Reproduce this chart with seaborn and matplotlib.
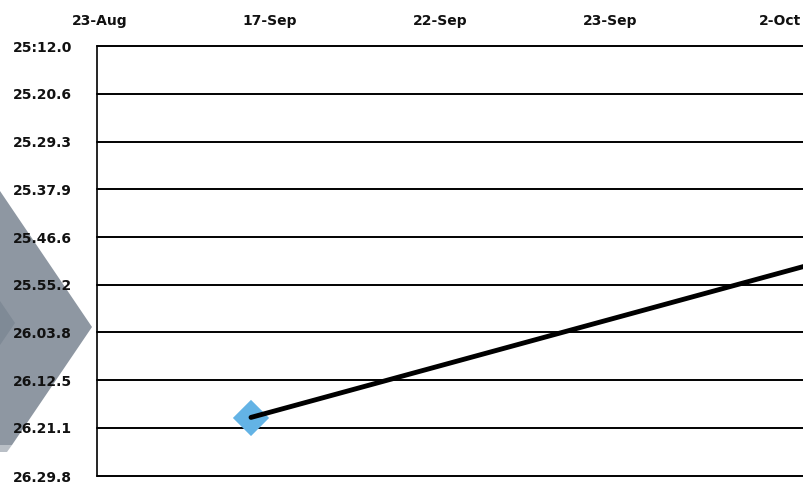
import numpy as np
import pandas as pd
import seaborn as sns
import matplotlib
matplotlib.use("Agg")
from matplotlib import pyplot as plt
from matplotlib.patches import Polygon

# 数据
dates = ["23-Aug", "17-Sep", "22-Sep", "23-Sep", "2-Oct"]
# 时间刻度（秒）及其标签
tick_secs = [1512.0, 1520.6, 1529.3, 1537.9, 1546.6, 1555.2, 1563.8, 1572.5, 1581.1, 1589.8]
tick_labels = ["25:12.0", "25.20.6", "25.29.3", "25.37.9", "25.46.6",
               "25.55.2", "26.03.8", "26.12.5", "26.21.1", "26.29.8"]
# 折线：第二个点在右边界之外
line_idx = [1, 5]
line_secs = [1579.2, 1545.6]
# 当前点（蓝色菱形）
marker_idx = [1]
marker_secs = [1579.3]

sns.set_theme(style="white")
plt.rcParams['font.family'] = ['DejaVu Sans']

W, H = 804, 487
fig = plt.figure(figsize=(W / 100, H / 100), dpi=100)
ax = fig.add_axes([97 / W, 1 - 476 / H, 1 - 97 / W, (476 - 46) / H])
ax.set_facecolor("none")

# 左侧装饰箭头（像素坐标）
def px(points):
    return [(x / W, 1 - y / H) for x, y in points]

shapes = [
    ([(0, 191), (92, 327), (12, 445), (0, 445)], "#8E97A2"),
    ([(0, 445), (12, 445), (7, 452), (0, 452)], "#B9BFC6"),
    ([(0, 301), (15, 323), (0, 345)], "#7F8A96"),
]
for pts, col in shapes:
    fig.patches.append(Polygon(px(pts), closed=True, transform=fig.transFigure,
                               facecolor=col, edgecolor="none", zorder=-1))

df_line = pd.DataFrame({"idx": line_idx, "sec": line_secs})
df_mark = pd.DataFrame({"idx": marker_idx, "sec": marker_secs})

sns.scatterplot(data=df_mark, x="idx", y="sec", marker="D", s=340,
                color="#63B3E5", edgecolor="none", ax=ax, zorder=3)
sns.lineplot(data=df_line, x="idx", y="sec", color="black", lw=3.5,
             ax=ax, zorder=4, solid_capstyle="round")

# 坐标轴（标签比数据点略偏右）
label_shift = 19 / 170
ax.set_yticks(tick_secs)
ax.set_yticklabels(tick_labels, fontsize=10, fontweight="bold", color="#111111")
ax.set_xticks(np.arange(len(dates)) + label_shift)
ax.set_xticklabels(dates, fontsize=10, fontweight="bold", color="#111111")
ax.set_xlim(16 / 170, 723 / 170)
ax.set_ylim(tick_secs[-1], tick_secs[0])
ax.xaxis.tick_top()
ax.tick_params(axis="x", length=0, pad=13)
ax.tick_params(axis="y", length=0, pad=18)
ax.set_xlabel("")
ax.set_ylabel("")

ax.grid(axis="y", color="black", lw=1.4)
for gl in ax.get_ygridlines():
    gl.set_clip_on(False)
for side in ["top", "right", "bottom"]:
    ax.spines[side].set_visible(False)
ax.spines["left"].set_color("black")
ax.spines["left"].set_linewidth(1.2)

fig.savefig("out.png", dpi=100)
